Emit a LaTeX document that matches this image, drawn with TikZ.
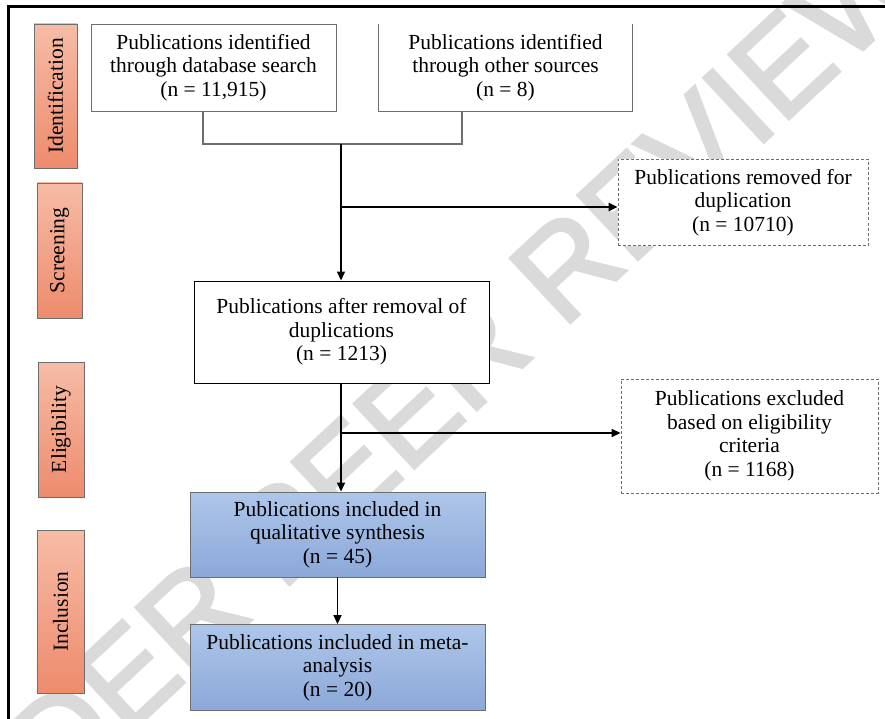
\documentclass[tikz,border=0pt]{standalone}
\usepackage{fontspec}
\setmainfont{Liberation Serif}
\newfontfamily\wmfont{Liberation Sans}
\usetikzlibrary{arrows.meta}
\definecolor{salL}{HTML}{F6BCA6}
\definecolor{salR}{HTML}{EE8B6D}
\definecolor{bluT}{HTML}{AEC6EA}
\definecolor{bluB}{HTML}{8BA8D8}
\definecolor{wmgray}{HTML}{DADADA}
\definecolor{edgegray}{HTML}{6E6E6E}
\tikzset{
  txt/.style={font=\fontsize{21.5}{23.5}\selectfont},
  box/.style={txt, draw=edgegray, line width=0.8pt, fill=white, align=center, inner sep=2pt},
  openbox/.style={txt, fill=white, align=center, inner sep=2pt},
  solidbox/.style={box, draw=black, line width=1pt},
  dashbox/.style={box, dashed, dash pattern=on 3pt off 2pt},
  bluebox/.style={box, top color=bluT, bottom color=bluB},
  phase/.style={txt, rotate=90, top color=salL, bottom color=salR, draw=edgegray, line width=0.8pt, inner sep=1pt},
  wmtext/.style={font=\wmfont\fontsize{128}{128}\selectfont, rotate=43, inner sep=0pt, text=wmgray},
  tip/.style={-{Triangle[length=9pt,width=8pt]}},
  joinline/.style={draw=edgegray, line width=1.2pt},
  mainline/.style={draw=black, line width=1.5pt},
}
\begin{document}
\begin{tikzpicture}[x=1pt,y=-1pt]
\useasboundingbox (0,0) rectangle (885,719);
\clip (0,0) rectangle (885,719);
\fill[white] (0,0) rectangle (885,719);
% watermark
\node[wmtext] (wm) at (398,424) {\special{pdf:code 2 Tr 3 w}UNDER PEER REVIEW\special{pdf:code 0 Tr}};
% frame
\draw[line width=3pt] (8,7) rectangle (900,740);
% phase labels
\node[phase, minimum width=144pt, minimum height=43pt] (ident) at (55.5,96) {Identification};
\node[phase, minimum width=135pt, minimum height=45pt] (screen) at (59.5,250.5) {Screening};
\node[phase, minimum width=135pt, minimum height=46pt] (elig) at (61,429.5) {Eligibility};
\node[phase, minimum width=163pt, minimum height=47pt] (incl) at (60.5,611.5) {Inclusion};
% boxes
\node[box, minimum width=245pt, minimum height=87pt] (db) at (213.5,67.5)
  {Publications identified\\through database search\\(n = 11,915)};
\node[openbox, minimum width=253pt, minimum height=87pt] (oth) at (505.5,67.5)
  {Publications identified\\through other sources\\(n = 8)};
\draw[draw=edgegray, line width=0.8pt] (oth.north west) -- (oth.south west) -- (oth.south east) -- (oth.north east);
\node[dashbox, minimum width=250pt, minimum height=86pt] (rem) at (743,202.5)
  {Publications removed for\\duplication\\(n = 10710)};
\node[solidbox, minimum width=295pt, minimum height=102pt] (after) at (341.5,332)
  {Publications after removal of\\duplications\\(n = 1213)};
\node[dashbox, minimum width=257pt, minimum height=114pt] (exc) at (749.5,436)
  {Publications excluded\\based on eligibility\\criteria\\(n = 1168)};
\node[bluebox, minimum width=295pt, minimum height=85pt] (qual) at (337.5,534.5)
  {Publications included in\\qualitative synthesis\\(n = 45)};
\node[bluebox, minimum width=295pt, minimum height=86pt] (meta) at (337.5,667.5)
  {Publications included in meta-\\analysis\\(n = 20)};
% connectors
\coordinate (j1) at (203,144);
\coordinate (j2) at (462,144);
\coordinate (jm) at (341,144);
\coordinate (br1) at (341,207);
\coordinate (br2) at (341,433);
\draw[joinline] (db.south -| j1) -- (j1) -- (j2) -- (oth.south -| j2);
\draw[mainline, tip] (jm) -- (after.north -| jm);
\draw[mainline, line width=2.2pt, tip] (br1) -- (rem.west |- br1);
\draw[mainline, tip] (after.south -| jm) -- (qual.north -| jm);
\draw[mainline, tip] (br2) -- (exc.west |- br2);
\draw[mainline, tip] (qual.south) -- (meta.north);
\end{tikzpicture}
\end{document}
